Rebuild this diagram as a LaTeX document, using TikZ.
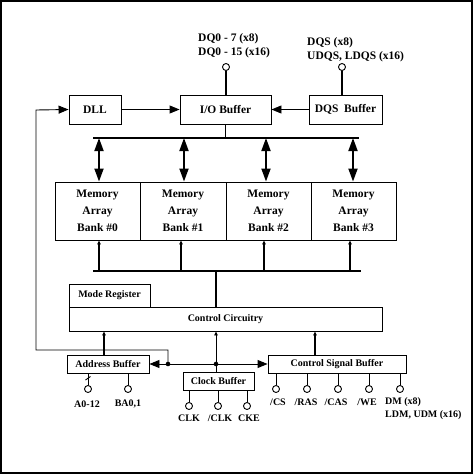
\documentclass[tikz,border=0pt]{standalone}
\usepackage{fontspec}
\setmainfont{Liberation Serif}
\usetikzlibrary{arrows.meta}
\begin{document}
\begin{tikzpicture}[x=1pt,y=-1pt,
  box/.style={draw, line width=0.9pt, inner sep=0pt, font=\bfseries\fontsize{10}{12}\selectfont},
  bigbox/.style={box, font=\bfseries\fontsize{11.5}{17}\selectfont, align=center},
  pin/.style={circle, draw, line width=0.9pt, fill=white, minimum size=7pt, inner sep=0pt},
  lbl/.style={font=\bfseries\fontsize{10}{12}\selectfont, inner sep=0pt},
  biglbl/.style={font=\bfseries\fontsize{11.5}{14}\selectfont, inner sep=0pt, anchor=west},
  wire/.style={line width=0.9pt},
  thickwire/.style={line width=1.7pt},
  bus/.style={line width=2.6pt},
  tri/.tip={Triangle[length=10pt,width=8pt]},
  bigtri/.tip={Triangle[length=13pt,width=9pt]},
  smalltri/.tip={Triangle[length=4pt,width=3.5pt]}
]
\useasboundingbox (0,0) rectangle (473,474);
\draw[line width=2pt] (1,1) rectangle (472,473);

% top row
\node[bigbox, minimum width=52pt, minimum height=29pt] (dll) at (95,109.5) {DLL};
\node[bigbox, minimum width=91pt, minimum height=29pt] (io) at (225.5,109.5) {I/O Buffer};
\node[bigbox, minimum width=73pt, minimum height=29pt] (dqs) at (345.5,109.5) {DQS\ \ Buffer};

\node[pin] (dqp) at (226,67) {};
\node[pin] (dqsp) at (342,67) {};
\draw[line width=1.3pt] (dqp) -- (dqp |- io.north);
\draw[line width=1.3pt] (dqsp) -- (dqsp |- dqs.north);
\node[biglbl] (dql1) at (198,39) {DQ0 - 7 (x8)};
\node[biglbl] (dql2) at (198,53) {DQ0 - 15 (x16)};
\node[biglbl] (dqsl1) at (307,43) {DQS (x8)};
\node[biglbl] (dqsl2) at (307,57) {UDQS, LDQS (x16)};

\draw[wire, -tri] (dll) -- (io);
\draw[wire, -tri] (dqs) -- (io);

% top bus
\coordinate (tbl) at (93,138);
\coordinate (tbr) at (359,138);
\draw[bus] (tbl) -- (tbr);
\draw[thickwire] (io.south) -- (io.south |- tbl);

% banks
\node[bigbox, minimum width=85pt, minimum height=58pt] (b0) at (97.5,211) {Memory\\Array\\Bank \#0};
\node[bigbox, minimum width=86pt, minimum height=58pt] (b1) at (183,211) {Memory\\Array\\Bank \#1};
\node[bigbox, minimum width=85pt, minimum height=58pt] (b2) at (268.5,211) {Memory\\Array\\Bank \#2};
\node[bigbox, minimum width=85pt, minimum height=58pt] (b3) at (353.5,211) {Memory\\Array\\Bank \#3};

\draw[line width=1.8pt, bigtri-bigtri] (b0.north -| 99,0) -- (tbl -| 99,0);
\draw[line width=1.8pt, bigtri-bigtri] (b1.north -| 184,0) -- (tbl -| 184,0);
\draw[line width=1.8pt, bigtri-bigtri] (b2.north -| 266,0) -- (tbl -| 266,0);
\draw[line width=1.8pt, bigtri-bigtri] (b3.north -| 353,0) -- (tbl -| 353,0);

% lower bus
\coordinate (lbl) at (93,271);
\coordinate (lbr) at (361,271);
\draw[bus] (lbl) -- (lbr);
\draw[thickwire, -smalltri] (lbl -| 99,0) -- (b0.south -| 99,0);
\draw[thickwire, -smalltri] (lbl -| 181,0) -- (b1.south -| 181,0);
\draw[thickwire, -smalltri] (lbl -| 264,0) -- (b2.south -| 264,0);
\draw[thickwire, -smalltri] (lbl -| 350,0) -- (b3.south -| 350,0);

% control
\node[box, minimum width=81pt, minimum height=23pt] (mr) at (109.5,295.5) {Mode Register};
\node[box, minimum width=313pt, minimum height=24pt] (cc) at (225.5,319) {Control Circuitry};
\draw[thickwire] (lbl -| 216,0) -- (cc.north -| 216,0);

\node[box, minimum width=82pt, minimum height=18pt] (ab) at (108,364) {Address Buffer};
\node[box, minimum width=71pt, minimum height=18pt] (cb) at (218.5,381) {Clock Buffer};
\node[box, minimum width=138pt, minimum height=18pt] (csb) at (337,364) {Control Signal Buffer};

\coordinate (dotA) at (168,364);
\coordinate (dotB) at (216,364);
\draw[wire, tri-tri] (ab.east) -- (csb.west);
\fill (dotA) circle (2.3pt);
\fill (dotB) circle (2.3pt);
\draw[wire, -tri] (dotA) -- ++(0,-14) -| (36,110) -- (dll.west);
\draw[wire, -smalltri] (dotB) -- (cc.south -| dotB);
\draw[wire] (dotB) -- (cb.north -| dotB);
\draw[thickwire, -smalltri] (ab.north -| 104,0) -- (cc.south -| 104,0);
\draw[thickwire, -smalltri] (csb.north -| 315,0) -- (cc.south -| 315,0);

% address pins
\node[pin] (pa0) at (88,389) {};
\node[pin] (pba) at (128,389) {};
\draw[wire] (pa0) -- (pa0 |- ab.south);
\draw[wire] (pba) -- (pba |- ab.south);
\draw[wire] (85.5,380) -- (90.5,376.5);
\node[lbl] (la0) at (87,404) {A0-12};
\node[lbl] (lba) at (128,404) {BA0,1};

% clock pins
\node[pin] (pclk) at (189,406) {};
\node[pin] (pnclk) at (218,406) {};
\node[pin] (pcke) at (247,406) {};
\draw[wire] (pclk) -- (pclk |- cb.south);
\draw[wire] (pnclk) -- (pnclk |- cb.south);
\draw[wire] (pcke) -- (pcke |- cb.south);
\node[lbl] (lclk) at (189,418) {CLK};
\node[lbl] (lnclk) at (220,418) {/CLK};
\node[lbl] (lcke) at (249,418) {CKE};

% control signal pins
\node[pin] (pcs) at (276,389) {};
\node[pin] (pras) at (307,389) {};
\node[pin] (pcas) at (338,389) {};
\node[pin] (pwe) at (369,389) {};
\node[pin] (pdm) at (400,389) {};
\foreach \p in {pcs,pras,pcas,pwe,pdm} \draw[wire] (\p) -- (\p |- csb.south);
\node[lbl] (lcs) at (278,402) {/CS};
\node[lbl] (lras) at (306,402) {/RAS};
\node[lbl] (lcas) at (336,402) {/CAS};
\node[lbl] (lwe) at (367,402) {/WE};
\node[lbl, anchor=west] (ldm1) at (385,402) {DM (x8)};
\node[lbl, anchor=west] (ldm2) at (385,415) {LDM, UDM (x16)};
\end{tikzpicture}
\end{document}
